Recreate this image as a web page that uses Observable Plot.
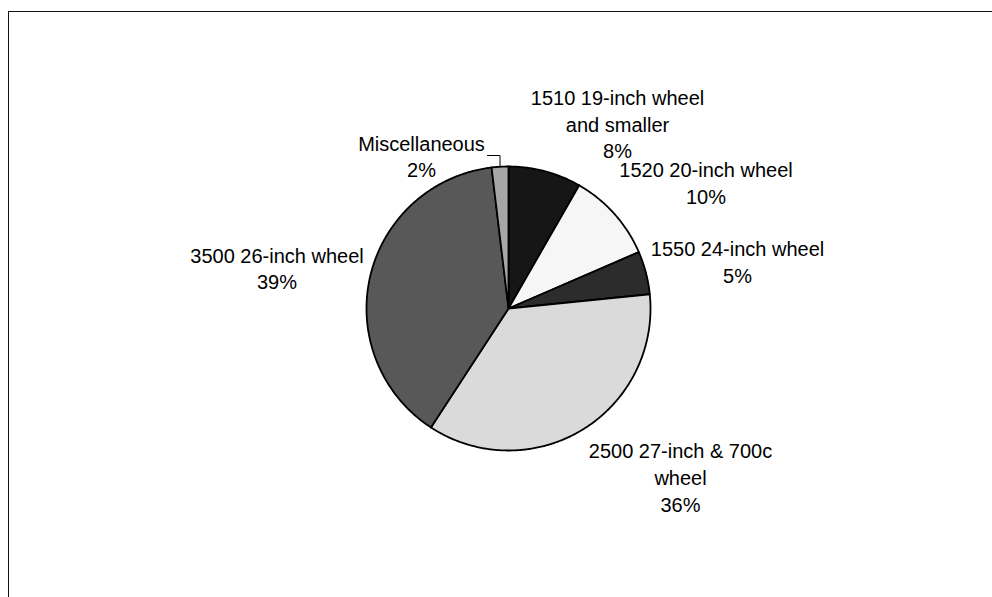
<!DOCTYPE html>
<html><head><meta charset="utf-8">
<script src="https://cdn.jsdelivr.net/npm/d3@7"></script>
<script src="https://cdn.jsdelivr.net/npm/@observablehq/plot@0.6"></script>
<style>
html,body{margin:0;padding:0;background:#fff;}
#wrap{position:relative;width:992px;height:597px;overflow:hidden;}
#frame{position:absolute;left:8px;top:11px;right:-10px;bottom:-10px;border-left:1.5px solid #111;border-top:1.5px solid #111;}
#chart{position:absolute;left:0;top:0;}
</style></head><body>
<div id="wrap"><div id="frame"></div><div id="chart"></div></div>
<script>
// ---- data ----
const categories = ["1510 19-inch wheel and smaller","1520 20-inch wheel","1550 24-inch wheel","2500 27-inch & 700c wheel","3500 26-inch wheel","Miscellaneous"];
const labelLines = [["1510 19-inch wheel","and smaller"],["1520 20-inch wheel"],["1550 24-inch wheel"],["2500 27-inch & 700c","wheel"],["3500 26-inch wheel"],["Miscellaneous"]];
const shares = [8.3, 10.2, 4.9, 35.8, 38.9, 1.9];
const percentLabels = ["8%","10%","5%","36%","39%","2%"];
const sliceColors = ["#161616","#f6f6f6","#2c2c2c","#dadada","#585858","#a6a6a6"];

// ---- layout (pixels) ----
const W = 992, H = 597, CX = 508, CY = 308, R = 142;
const px = x => (x - CX) / R;
const py = y => (CY - y) / R;
const labelPos = [[617,122.6],[705.5,181.5],[737,260.5],[680,476],[276.5,267],[421,155]];

const arcs = d3.pie().sort(null).value(d => d)(shares);
const slices = [];
arcs.forEach((a, i) => {
  const n = Math.max(4, Math.ceil((a.endAngle - a.startAngle) / (Math.PI / 360)));
  slices.push({cat: categories[i], x: 0, y: 0});
  for (let k = 0; k <= n; k++) {
    const t = a.startAngle + (a.endAngle - a.startAngle) * k / n;
    slices.push({cat: categories[i], x: Math.sin(t), y: Math.cos(t)});
  }
  slices.push({cat: categories[i], x: 0, y: 0});
});

const labels = categories.map((c, i) => ({
  cat: c,
  text: labelLines[i].join("\n") + "\n" + percentLabels[i],
  x: px(labelPos[i][0]),
  y: py(labelPos[i][1])
}));

// leader line for Miscellaneous
const mA = (arcs[5].startAngle + arcs[5].endAngle) / 2;
const mx = Math.sin(mA), my = Math.cos(mA);
const leader = [
  {x: px(487), y: py(155)},
  {x: mx, y: py(155)},
  {x: mx, y: my}
];

const chart = Plot.plot({
  width: W, height: H,
  margin: 0,
  x: {domain: [px(0), px(W)], axis: null},
  y: {domain: [py(H), py(0)], axis: null},
  color: {domain: categories, range: sliceColors},
  style: {background: "transparent", fontFamily: "'Liberation Sans', Arial, sans-serif"},
  marks: [
    Plot.line(slices, {x: "x", y: "y", z: "cat", fill: "cat", stroke: "#000", strokeWidth: 1.8, strokeLinejoin: "round", curve: "linear"}),
    Plot.line(leader, {x: "x", y: "y", stroke: "#000", strokeWidth: 1, curve: "linear"}),
    Plot.text(labels, {x: "x", y: "y", text: "text", fontSize: 20, lineHeight: 1.335, textAnchor: "middle", lineAnchor: "middle", fill: "#000"})
  ]
});
document.getElementById("chart").appendChild(chart);
</script>
</body></html>
